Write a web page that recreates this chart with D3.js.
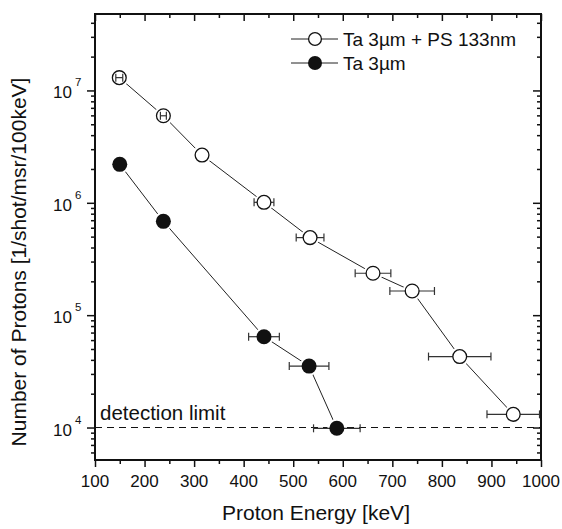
<!DOCTYPE html>
<html><head><meta charset="utf-8">
<script src="https://cdn.jsdelivr.net/npm/d3@7"></script>
<style>body{margin:0;background:#fff}svg{display:block}text{font-family:"Liberation Sans",Arial,Helvetica,sans-serif;fill:#111}</style>
</head><body><svg id="c" width="562" height="529"></svg>
<script>
// Data
const seriesNames = ["Ta 3\u00b5m + PS 133nm", "Ta 3\u00b5m"];
const psEnergy = [149, 238, 316, 441, 534, 661, 740, 836, 944];
const psCount  = [1.30e7, 5.95e6, 2.66e6, 1.01e6, 4.90e5, 2.36e5, 1.64e5, 4.28e4, 1.31e4];
const psErr    = [7, 6, 0, 20, 28, 36, 45, 63, 53];
const taEnergy = [150, 238, 441, 532, 588];
const taCount  = [2.20e6, 6.84e5, 6.43e4, 3.52e4, 9.84e3];
const taErr    = [0, 0, 31, 40, 47];
const detectionLimit = 1e4;
const xTicks = [100, 200, 300, 400, 500, 600, 700, 800, 900, 1000];
const yMajor = [1e4, 1e5, 1e6, 1e7];

const svg = d3.select("#c");
const L = 95, R = 541, T = 14, B = 460;
const x = d3.scaleLinear().domain([100, 1000]).range([L, R]);
const y = d3.scaleLog().domain([5.14e3, 4.79e7]).range([B, T]);

const xMinor = d3.range(150, 1000, 100);
const yMinor = [];
for (let e = 3; e <= 7; e++) for (let m = 2; m <= 9; m++) { const v = m * Math.pow(10, e); if (v >= y.domain()[0] && v <= y.domain()[1]) yMinor.push(v); }

function styleAxis(g) { g.select(".domain").remove(); g.selectAll("line").attr("stroke", "#111").attr("stroke-width", 1.5); g.selectAll("text").remove(); }
// bottom (outward), top (inward)
svg.append("g").attr("transform", `translate(0,${B})`).call(d3.axisBottom(x).tickValues(xTicks).tickSize(7)).call(styleAxis);
svg.append("g").attr("transform", `translate(0,${B})`).call(d3.axisBottom(x).tickValues(xMinor).tickSize(4)).call(styleAxis);
svg.append("g").attr("transform", `translate(0,${T})`).call(d3.axisBottom(x).tickValues(xTicks).tickSize(7)).call(styleAxis);
svg.append("g").attr("transform", `translate(0,${T})`).call(d3.axisBottom(x).tickValues(xMinor).tickSize(4)).call(styleAxis);
// left (outward), right (inward)
svg.append("g").attr("transform", `translate(${L},0)`).call(d3.axisLeft(y).tickValues(yMajor).tickSize(8)).call(styleAxis);
svg.append("g").attr("transform", `translate(${L},0)`).call(d3.axisLeft(y).tickValues(yMinor).tickSize(4)).call(styleAxis);
svg.append("g").attr("transform", `translate(${R},0)`).call(d3.axisLeft(y).tickValues(yMajor).tickSize(8)).call(styleAxis);
svg.append("g").attr("transform", `translate(${R},0)`).call(d3.axisLeft(y).tickValues(yMinor).tickSize(4)).call(styleAxis);

// frame
svg.append("rect").attr("x", L).attr("y", T).attr("width", R - L).attr("height", B - T)
  .attr("fill", "none").attr("stroke", "#111").attr("stroke-width", 2);

// tick labels
svg.append("g").selectAll("text").data(xTicks).join("text")
  .attr("x", d => x(d)).attr("y", 487).attr("text-anchor", "middle").attr("font-size", 17).text(d => d);
const yl = svg.append("g").selectAll("g").data(yMajor).join("g");
yl.append("text").attr("x", 72).attr("y", d => y(d) + 8).attr("text-anchor", "end").attr("font-size", 17).text("10");
yl.append("text").attr("x", 75).attr("y", d => y(d) - 4).attr("font-size", 11.5).text(d => Math.round(Math.log10(d)));

// axis titles
svg.append("text").attr("x", 316).attr("y", 520).attr("text-anchor", "middle").attr("font-size", 21).text("Proton Energy [keV]");
svg.append("text").attr("transform", "translate(26,262) rotate(-90)").attr("text-anchor", "middle").attr("font-size", 21)
  .text("Number of Protons [1/shot/msr/100keV]");

// detection limit
svg.append("line").attr("x1", L).attr("x2", R).attr("y1", y(detectionLimit)).attr("y2", y(detectionLimit))
  .attr("stroke", "#111").attr("stroke-width", 1.2).attr("stroke-dasharray", "7,5");
svg.append("text").attr("x", 100).attr("y", 420).attr("font-size", 20.5).text("detection limit");

const R0 = 7.5;
function drawSeries(E, C, Er, filled) {
  const pts = E.map((e, i) => ({ e, c: C[i], er: Er[i] }));
  const line = d3.line().x(d => x(d.e)).y(d => y(d.c));
  svg.append("path").datum(pts).attr("d", line).attr("fill", "none").attr("stroke", "#222").attr("stroke-width", 1);
  svg.append("g").selectAll("circle").data(pts).join("circle")
    .attr("cx", d => x(d.e)).attr("cy", d => y(d.c)).attr("r", R0 + 2).attr("fill", "#fff");
  const eb = svg.append("g").attr("stroke", "#333").attr("stroke-width", 1.2);
  svg.append("g").selectAll("circle").data(pts).join("circle")
    .attr("cx", d => x(d.e)).attr("cy", d => y(d.c)).attr("r", filled ? R0 : R0 - 0.6)
    .attr("fill", filled ? "#111" : "#fff").attr("stroke", "#111").attr("stroke-width", filled ? 0 : 1.3);
  const eb2 = svg.append("g").attr("stroke", "#333").attr("stroke-width", 1.2);
  pts.filter(d => d.er > 0).forEach(d => {
    const cx = x(d.e), cy = y(d.c), x1 = x(d.e - d.er), x2 = x(d.e + d.er);
    const g = (x2 - cx) > R0 ? eb : eb2;
    g.append("line").attr("x1", x1).attr("x2", x2).attr("y1", cy).attr("y2", cy);
    g.append("line").attr("x1", x1).attr("x2", x1).attr("y1", cy - 4).attr("y2", cy + 4);
    g.append("line").attr("x1", x2).attr("x2", x2).attr("y1", cy - 4).attr("y2", cy + 4);
  });
}
drawSeries(psEnergy, psCount, psErr, false);
drawSeries(taEnergy, taCount, taErr, true);

// legend
const leg = svg.append("g");
[[39, false], [63, true]].forEach(([ly, f], i) => {
  leg.append("line").attr("x1", 291).attr("x2", 338).attr("y1", ly).attr("y2", ly).attr("stroke", "#222").attr("stroke-width", 1);
  leg.append("circle").attr("cx", 315).attr("cy", ly).attr("r", f ? 7 : 6.4).attr("fill", f ? "#111" : "#fff")
    .attr("stroke", "#111").attr("stroke-width", f ? 0 : 1.3);
  leg.append("text").attr("x", 343).attr("y", ly + 7).attr("font-size", 19).text(seriesNames[i]);
});
</script></body></html>
